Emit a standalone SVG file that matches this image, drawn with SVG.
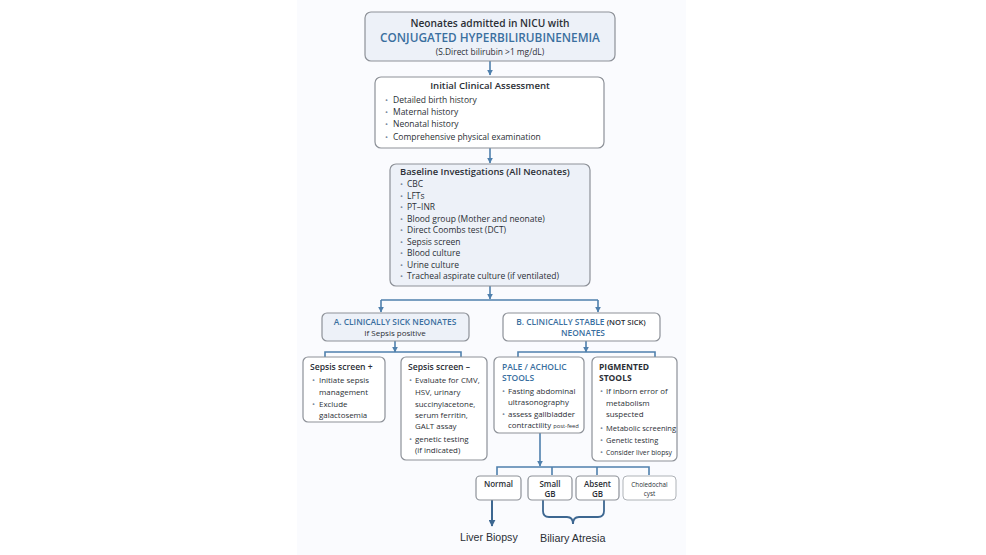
<svg xmlns="http://www.w3.org/2000/svg" width="986" height="555" viewBox="0 0 986 555">
<defs>
<style>
text{font-family:"Open Sans","Noto Sans","DejaVu Sans",sans-serif;fill:#2b2f36;}
.box{fill:#ffffff;stroke:#8d9198;stroke-width:1.2;}
.boxb{fill:#edf1f8;stroke:#8d9198;stroke-width:1.2;}
.t{font-size:8.5px;}
.h{font-size:9px;font-weight:600;}
.bl{fill:#3a6f9f;font-weight:700;}
.bul{fill:#7a8a9c;font-size:8px;}
.c{text-anchor:middle;}
.ln{fill:none;stroke:#4f80ad;stroke-width:1.6;}
</style>
<marker id="ah" viewBox="0 0 10 10" refX="9" refY="5" markerWidth="6" markerHeight="6" orient="auto-start-reverse" markerUnits="userSpaceOnUse">
<path d="M0,0 L10,5 L0,10 z" fill="#4f80ad"/>
</marker>
<marker id="ah2" viewBox="0 0 10 10" refX="9" refY="5" markerWidth="7" markerHeight="7" orient="auto" markerUnits="userSpaceOnUse">
<path d="M0,0 L10,5 L0,10 z" fill="#3d6791"/>
</marker>
</defs>
<rect x="0" y="0" width="986" height="555" fill="#ffffff"/>
<rect x="297" y="0" width="389" height="555" fill="#fafbfe"/>

<g id="connectors">
<path class="ln" d="M490,61 V75" marker-end="url(#ah)"/>
<path class="ln" d="M490,148 V163" marker-end="url(#ah)"/>
<path class="ln" d="M490,286 V299" marker-end="url(#ah)"/>
<path class="ln" d="M381,300 H598"/>
<path class="ln" d="M381,300 V312" marker-end="url(#ah)"/>
<path class="ln" d="M598,300 V312" marker-end="url(#ah)"/>
<path class="ln" d="M395,341 V352" marker-end="url(#ah)"/>
<path class="ln" d="M325,357 V352 H461 V357"/>
<path class="ln" d="M586,341 V352" marker-end="url(#ah)"/>
<path class="ln" d="M518,357 V352 H655 V357"/>
<path class="ln" d="M540,433 V466" marker-end="url(#ah)"/>
<path class="ln" d="M497,475 V467 H649 V475"/>
<path class="ln" d="M552,467 V475"/>
<path class="ln" d="M597,467 V475"/>
<path d="M492,500 V526" fill="none" stroke="#3d6791" stroke-width="2" marker-end="url(#ah2)"/>
<path d="M543,500 V511 Q543,517 549,517 H567 Q573,517 573,524 Q573,517 579,517 H598 Q604,517 604,511 V500" fill="none" stroke="#3d6791" stroke-width="1.8"/>
</g>

<g id="n-top">
<rect class="boxb" x="365" y="12" width="250" height="49" rx="6"/>
<text class="c" x="490" y="26.5" style="font-size:10.2px;font-weight:600">Neonates admitted in NICU with</text>
<text class="c bl" x="490" y="42" style="font-size:11.8px;font-weight:600">CONJUGATED HYPERBILIRUBINENEMIA</text>
<text class="c" x="490" y="54.5" style="font-size:8.4px">(S.Direct bilirubin &gt;1 mg/dL)</text>
</g>

<g id="n-initial">
<rect class="box" x="375" y="77" width="229" height="71" rx="6"/>
<text class="c h" x="490" y="89" style="font-size:9.6px">Initial Clinical Assessment</text>
<text class="bul" x="385" y="103">•</text><text class="t" x="393" y="103">Detailed birth history</text>
<text class="bul" x="385" y="115">•</text><text class="t" x="393" y="115">Maternal history</text>
<text class="bul" x="385" y="127">•</text><text class="t" x="393" y="127">Neonatal history</text>
<text class="bul" x="385" y="140">•</text><text class="t" x="393" y="140">Comprehensive physical examination</text>
</g>

<g id="n-baseline">
<rect class="boxb" x="390" y="164" width="200" height="122" rx="6"/>
<text class="h" x="400" y="175" style="font-size:9.4px">Baseline Investigations (All Neonates)</text>
<text class="bul" x="400" y="187">•</text><text class="t" x="407" y="187">CBC</text>
<text class="bul" x="400" y="198.5">•</text><text class="t" x="407" y="198.5">LFTs</text>
<text class="bul" x="400" y="210">•</text><text class="t" x="407" y="210">PT–INR</text>
<text class="bul" x="400" y="221.5">•</text><text class="t" x="407" y="221.5">Blood group (Mother and neonate)</text>
<text class="bul" x="400" y="233">•</text><text class="t" x="407" y="233">Direct Coombs test (DCT)</text>
<text class="bul" x="400" y="244.5">•</text><text class="t" x="407" y="244.5">Sepsis screen</text>
<text class="bul" x="400" y="256">•</text><text class="t" x="407" y="256">Blood culture</text>
<text class="bul" x="400" y="267.5">•</text><text class="t" x="407" y="267.5">Urine culture</text>
<text class="bul" x="400" y="279">•</text><text class="t" x="407" y="279">Tracheal aspirate culture (if ventilated)</text>
</g>

<g id="n-sick">
<rect class="boxb" x="322" y="313" width="147" height="28" rx="5"/>
<text class="c bl" x="395" y="325" style="font-size:8.4px;font-weight:600">A. CLINICALLY SICK NEONATES</text>
<text class="c t" x="395" y="336" style="font-size:8px">If Sepsis positive</text>
</g>

<g id="n-stable">
<rect class="box" x="503" y="313" width="157" height="28" rx="5"/>
<text class="c" x="581" y="325" style="font-size:8.4px;font-weight:600"><tspan fill="#3a6f9f">B. CLINICALLY STABLE</tspan> <tspan style="font-size:7.6px">(NOT SICK)</tspan></text>
<text class="c bl" x="583" y="336" style="font-size:8.4px;font-weight:600">NEONATES</text>
</g>

<g id="n-sepsis-pos">
<rect class="box" x="303" y="357" width="82" height="65" rx="5"/>
<text class="h" x="310" y="370" style="font-size:8.6px">Sepsis screen +</text>
<text class="bul" x="312" y="383">•</text><text class="t" x="319" y="383" style="font-size:7.9px">Initiate sepsis</text>
<text class="t" x="319" y="395" style="font-size:7.9px">management</text>
<text class="bul" x="312" y="407">•</text><text class="t" x="319" y="407" style="font-size:7.9px">Exclude</text>
<text class="t" x="319" y="418" style="font-size:7.9px">galactosemia</text>
</g>

<g id="n-sepsis-neg">
<rect class="box" x="401" y="357" width="86" height="103" rx="5"/>
<text class="h" x="408" y="370" style="font-size:8.6px">Sepsis screen –</text>
<text class="bul" x="409" y="383">•</text><text class="t" x="415" y="383" style="font-size:7.9px">Evaluate for CMV,</text>
<text class="t" x="415" y="395" style="font-size:7.9px">HSV, urinary</text>
<text class="t" x="415" y="407" style="font-size:7.9px">succinylacetone,</text>
<text class="t" x="415" y="418" style="font-size:7.9px">serum ferritin,</text>
<text class="t" x="415" y="429" style="font-size:7.9px">GALT assay</text>
<text class="bul" x="409" y="442">•</text><text class="t" x="415" y="442" style="font-size:7.9px">genetic testing</text>
<text class="t" x="415" y="453" style="font-size:7.9px">(if indicated)</text>
</g>

<g id="n-pale">
<rect class="box" x="494" y="357" width="90" height="76" rx="5"/>
<text class="bl" x="502" y="370" style="font-size:8.5px;font-weight:600">PALE / ACHOLIC</text>
<text class="bl" x="502" y="381" style="font-size:8.5px;font-weight:600">STOOLS</text>
<text class="bul" x="502" y="394">•</text><text class="t" x="508" y="394" style="font-size:7.9px">Fasting abdominal</text>
<text class="t" x="508" y="405" style="font-size:7.9px">ultrasonography</text>
<text class="bul" x="502" y="417">•</text><text class="t" x="508" y="417" style="font-size:7.9px">assess gallbladder</text>
<text class="t" x="508" y="428" style="font-size:7.9px">contractility <tspan style="font-size:5.8px">post-feed</tspan></text>
</g>

<g id="n-pigmented">
<rect class="box" x="592" y="357" width="85" height="104" rx="5"/>
<text class="h" x="599" y="370" style="font-size:8.5px;font-weight:700">PIGMENTED</text>
<text class="h" x="599" y="381" style="font-size:8.5px;font-weight:700">STOOLS</text>
<text class="bul" x="600" y="394">•</text><text class="t" x="606" y="394" style="font-size:7.9px">If inborn error of</text>
<text class="t" x="606" y="405.5" style="font-size:7.9px">metabolism</text>
<text class="t" x="606" y="417" style="font-size:7.9px">suspected</text>
<text class="bul" x="600" y="431">•</text><text class="t" x="606" y="431" style="font-size:7.5px">Metabolic screening</text>
<text class="bul" x="600" y="443">•</text><text class="t" x="606" y="443" style="font-size:7.5px">Genetic testing</text>
<text class="bul" x="600" y="455">•</text><text class="t" x="606" y="455" style="font-size:6.8px">Consider liver biopsy</text>
</g>

<g id="n-normal">
<rect class="box" x="476" y="476" width="45" height="24" rx="4"/>
<text class="c h" x="498.5" y="487" style="font-size:8px">Normal</text>
</g>
<g id="n-small">
<rect class="box" x="528" y="476" width="44" height="24" rx="4"/>
<text class="c h" x="550" y="487" style="font-size:8px">Small</text>
<text class="c h" x="550" y="497" style="font-size:8px">GB</text>
</g>
<g id="n-absent">
<rect class="box" x="576" y="476" width="43" height="24" rx="4"/>
<text class="c h" x="597.5" y="487" style="font-size:8px">Absent</text>
<text class="c h" x="597.5" y="497" style="font-size:8px">GB</text>
</g>
<g id="n-choledochal">
<rect class="box" x="623" y="476" width="53" height="24" rx="4" style="stroke:#a6aab0;stroke-width:0.9"/>
<text class="c" x="649.5" y="486.5" style="font-size:6.3px">Choledochal</text>
<text class="c" x="649.5" y="496" style="font-size:6.3px">cyst</text>
</g>

<g id="n-liver-biopsy">
<text x="460" y="541" style="font-family:'Liberation Sans',Arial,sans-serif;font-size:10.6px">Liver Biopsy</text>
</g>
<g id="n-biliary-atresia">
<text x="540" y="542" style="font-family:'Liberation Sans',Arial,sans-serif;font-size:10.8px">Biliary Atresia</text>
</g>
</svg>
